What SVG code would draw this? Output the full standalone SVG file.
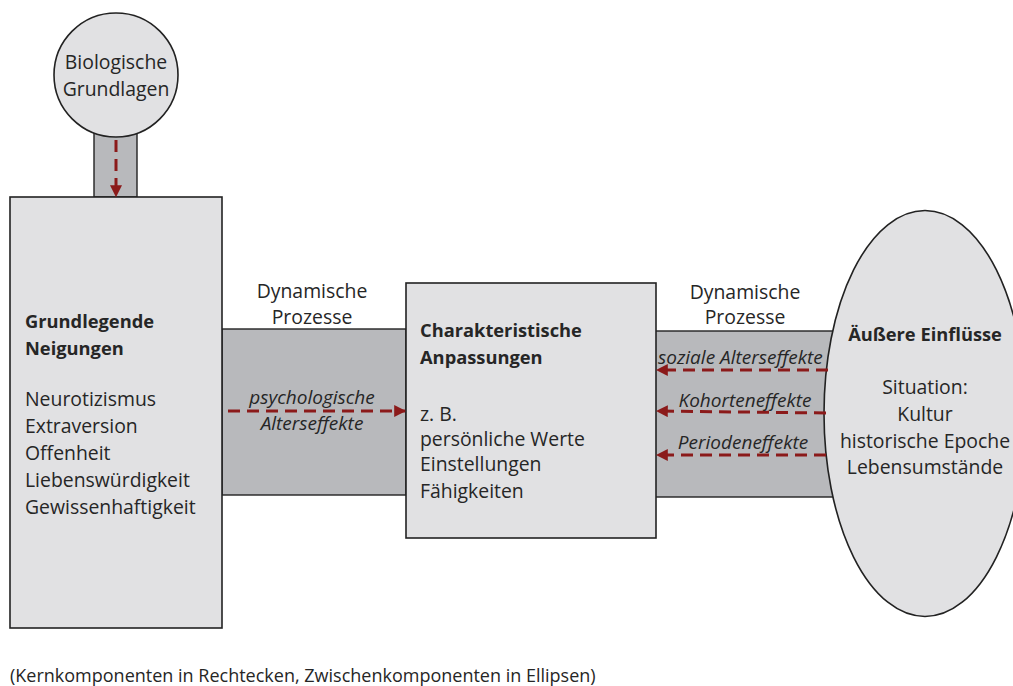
<svg xmlns="http://www.w3.org/2000/svg" width="1013" height="686" viewBox="0 0 1013 686">
<style>
.node{fill:#e1e1e3;stroke:#222;stroke-width:1.6}
.band{fill:#b8b9bc;stroke:#222;stroke-width:1.4}
text{font-family:"Open Sans","Liberation Sans",sans-serif;font-size:19.4px;fill:#262626}
.b{font-weight:bold;font-size:18.3px}
.i{font-style:italic;font-size:19px}
.c{text-anchor:middle}
.cap{font-size:18px}
.arr{stroke:#8b1a1a;stroke-width:3;stroke-dasharray:12 7;fill:none}
</style>
<defs>
<marker id="ah" viewBox="0 0 10 10" refX="9" refY="5" markerWidth="4" markerHeight="4" markerUnits="strokeWidth" orient="auto">
<path d="M0,0 L10,5 L0,10 z" fill="#8b1a1a"/>
</marker>
</defs>
<rect width="1013" height="686" fill="#ffffff"/>
<g id="bands">
<rect class="band" x="94" y="130" width="43" height="67"/>
<rect class="band" x="222" y="329" width="184" height="166"/>
<rect class="band" x="655" y="331" width="190" height="166"/>
</g>
<g id="biologische-grundlagen">
<circle class="node" cx="116" cy="75" r="62"/>
<text class="c" x="116" y="69">Biologische</text>
<text class="c" x="116" y="96">Grundlagen</text>
</g>
<g id="grundlegende-neigungen">
<rect class="node" x="10" y="197" width="212" height="431"/>
<text class="b" x="25" y="328">Grundlegende</text>
<text class="b" x="25" y="355">Neigungen</text>
<text x="25" y="406">Neurotizismus</text>
<text x="25" y="433">Extraversion</text>
<text x="25" y="460">Offenheit</text>
<text x="25" y="487">Liebenswürdigkeit</text>
<text x="25" y="514">Gewissenhaftigkeit</text>
</g>
<g id="charakteristische-anpassungen">
<rect class="node" x="406" y="283" width="250" height="255"/>
<text class="b" x="420" y="337">Charakteristische</text>
<text class="b" x="420" y="364">Anpassungen</text>
<text x="420" y="421">z. B.</text>
<text x="420" y="446">persönliche Werte</text>
<text x="420" y="471">Einstellungen</text>
<text x="420" y="498">Fähigkeiten</text>
</g>
<g id="aeussere-einfluesse">
<ellipse class="node" cx="925" cy="413.5" rx="101" ry="203"/>
<text class="b c" x="925" y="341">Äußere Einflüsse</text>
<text class="c" x="925" y="394">Situation:</text>
<text class="c" x="925" y="421">Kultur</text>
<text class="c" x="925" y="448">historische Epoche</text>
<text class="c" x="925" y="474">Lebensumstände</text>
</g>
<g id="connectors">
<line class="arr" x1="116" y1="140" x2="116" y2="196" marker-end="url(#ah)"/>
<line class="arr" x1="228" y1="411" x2="405" y2="411" marker-end="url(#ah)"/>
<line class="arr" x1="828" y1="370" x2="657" y2="370" marker-end="url(#ah)"/>
<line class="arr" x1="826" y1="413" x2="657" y2="411" marker-end="url(#ah)"/>
<line class="arr" x1="826" y1="455" x2="657" y2="455" marker-end="url(#ah)"/>
</g>
<g id="labels">
<text class="c" x="312" y="298">Dynamische</text>
<text class="c" x="312" y="324">Prozesse</text>
<text class="i c" x="312" y="404">psychologische</text>
<text class="i c" x="312" y="430">Alterseffekte</text>
<text class="c" x="745" y="299">Dynamische</text>
<text class="c" x="745" y="324">Prozesse</text>
<text class="i" x="658" y="364">soziale Alterseffekte</text>
<text class="i c" x="745" y="407">Kohorteneffekte</text>
<text class="i c" x="743" y="449">Periodeneffekte</text>
<text class="cap" x="10" y="682">(Kernkomponenten in Rechtecken, Zwischenkomponenten in Ellipsen)</text>
</g>
</svg>
